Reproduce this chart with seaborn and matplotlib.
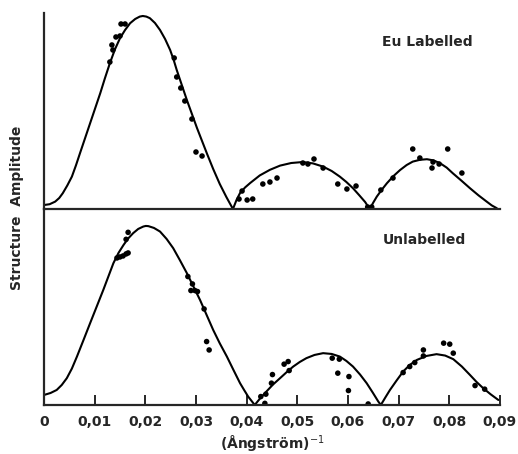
import numpy as np
import pandas as pd
import seaborn as sns
import matplotlib.pyplot as plt

# curves (x in 1/Angstrom, amplitude in arbitrary units)
eu_curve_x = [0.0, 0.0011, 0.0022, 0.0030, 0.0037, 0.0046, 0.0055, 0.0063, 0.0071, 0.0081,
              0.0091, 0.0101, 0.0111, 0.0120, 0.0130, 0.0140, 0.0150, 0.0160, 0.0170, 0.0180,
              0.0189, 0.0195, 0.0202, 0.0209, 0.0219, 0.0229, 0.0239, 0.0249, 0.0256, 0.0262,
              0.0272, 0.0282, 0.0292, 0.0302, 0.0312, 0.0322, 0.0334, 0.0347, 0.0360, 0.0373,
              0.0380, 0.0387, 0.0397, 0.0407, 0.0417, 0.0426, 0.0446, 0.0466, 0.0488, 0.0511,
              0.0531, 0.0551, 0.0568, 0.0584, 0.0597, 0.0610, 0.0622, 0.0634, 0.0643,
              0.0650, 0.0657, 0.0667, 0.0677, 0.0690, 0.0703, 0.0716, 0.0728, 0.0742, 0.0756,
              0.0769, 0.0782, 0.0795, 0.0807, 0.0824, 0.0841, 0.0858, 0.0874, 0.0884, 0.0894]
eu_curve_y = [0.20, 0.24, 0.37, 0.55, 0.79, 1.18, 1.62, 2.18, 2.79, 3.54,
              4.29, 5.04, 5.79, 6.52, 7.29, 7.98, 8.54, 8.95, 9.29, 9.50,
              9.62, 9.65, 9.62, 9.54, 9.30, 8.95, 8.50, 7.95, 7.45, 6.95,
              6.20, 5.45, 4.75, 4.05, 3.40, 2.75, 2.00, 1.25, 0.60, 0.0,
              0.45, 0.80, 1.08, 1.30, 1.50, 1.68, 1.96, 2.17, 2.30, 2.35,
              2.28, 2.12, 1.90, 1.62, 1.35, 1.04, 0.70, 0.35, 0.0,
              0.32, 0.62, 0.97, 1.29, 1.65, 1.95, 2.20, 2.37, 2.46, 2.49,
              2.43, 2.29, 2.07, 1.79, 1.42, 1.04, 0.68, 0.37, 0.18, 0.04]

un_curve_x = [0.0, 0.0013, 0.0025, 0.0035, 0.0045, 0.0055, 0.0065, 0.0078, 0.0091, 0.0104,
              0.0117, 0.0127, 0.0137, 0.0147, 0.0157, 0.0166, 0.0176, 0.0186, 0.0196, 0.0201,
              0.0206, 0.0217, 0.0229, 0.0242, 0.0255, 0.0268, 0.0282, 0.0295, 0.0308, 0.0321,
              0.0334, 0.0347, 0.0361, 0.0374, 0.0387, 0.0395, 0.0403, 0.0416,
              0.0427, 0.0439, 0.0452, 0.0466, 0.0479, 0.0492, 0.0505, 0.0518, 0.0534, 0.0551,
              0.0568, 0.0584, 0.0597, 0.0610, 0.0624, 0.0637, 0.0649, 0.0660, 0.0665,
              0.0674, 0.0683, 0.0696, 0.0709, 0.0722, 0.0736, 0.0755, 0.0775, 0.0792, 0.0808,
              0.0825, 0.0841, 0.0854, 0.0867, 0.0882, 0.0897]
un_curve_y = [0.50, 0.60, 0.75, 1.00, 1.34, 1.82, 2.42, 3.25, 4.09, 4.92,
              5.75, 6.42, 7.09, 7.60, 8.00, 8.32, 8.59, 8.80, 8.92, 8.95,
              8.94, 8.85, 8.67, 8.30, 7.84, 7.25, 6.59, 5.92, 5.25, 4.50,
              3.75, 3.08, 2.42, 1.75, 1.09, 0.75, 0.42, 0.0,
              0.34, 0.67, 1.02, 1.34, 1.64, 1.92, 2.15, 2.34, 2.50, 2.59,
              2.55, 2.42, 2.20, 1.92, 1.52, 1.09, 0.62, 0.17, 0.0,
              0.38, 0.75, 1.22, 1.67, 2.00, 2.25, 2.45, 2.54, 2.47, 2.29,
              1.92, 1.50, 1.15, 0.84, 0.53, 0.25]

# measured points
eu_pts_x = [0.0152, 0.0160, 0.0150, 0.0142, 0.0134, 0.0136, 0.0130, 0.0257, 0.0262, 0.0270,
            0.0278, 0.0292, 0.0300, 0.0312, 0.0385, 0.0391, 0.0401, 0.0412, 0.0432, 0.0446,
            0.0460, 0.0511, 0.0521, 0.0533, 0.0551, 0.0580, 0.0598, 0.0616, 0.0639, 0.0647,
            0.0665, 0.0689, 0.0728, 0.0742, 0.0768, 0.0766, 0.0780, 0.0797, 0.0825]
eu_pts_y = [9.25, 9.25, 8.65, 8.60, 8.20, 7.95, 7.35, 7.55, 6.60, 6.05,
            5.40, 4.50, 2.85, 2.65, 0.50, 0.90, 0.45, 0.50, 1.25, 1.35,
            1.55, 2.30, 2.25, 2.50, 2.05, 1.25, 1.00, 1.15, 0.10, 0.10,
            0.95, 1.55, 3.00, 2.55, 2.35, 2.05, 2.25, 3.00, 1.80]

un_pts_x = [0.0166, 0.0162, 0.0144, 0.0150, 0.0156, 0.0162, 0.0166, 0.0284, 0.0293, 0.0290,
            0.0298, 0.0303, 0.0316, 0.0321, 0.0326, 0.0436, 0.0428, 0.0438, 0.0449, 0.0451,
            0.0474, 0.0482, 0.0484, 0.0569, 0.0583, 0.0580, 0.0602, 0.0601, 0.0640, 0.0709,
            0.0722, 0.0732, 0.0749, 0.0749, 0.0789, 0.0801, 0.0808, 0.0851, 0.0870]
un_pts_y = [8.63, 8.28, 7.35, 7.40, 7.45, 7.55, 7.60, 6.42, 6.05, 5.72,
            5.72, 5.67, 4.80, 3.17, 2.75, 0.08, 0.42, 0.54, 1.09, 1.52,
            2.04, 2.17, 1.72, 2.34, 2.29, 1.59, 1.42, 0.72, 0.05, 1.62,
            1.92, 2.12, 2.75, 2.45, 3.09, 3.04, 2.59, 0.97, 0.79]

xticks = [0.0, 0.01, 0.02, 0.03, 0.04, 0.05, 0.06, 0.07, 0.08, 0.09]
xticklabels = ['0', '0,01', '0,02', '0,03', '0,04', '0,05', '0,06', '0,07', '0,08', '0,09']

sns.set_style('ticks')
plt.rcParams['font.family'] = ['DejaVu Sans']

fig = plt.figure(figsize=(5.18, 4.54), dpi=100)
ax1 = fig.add_axes([0.085, 0.5396, 0.880, 0.4318])
ax2 = fig.add_axes([0.085, 0.108, 0.880, 0.4318])

panels = [
    (ax1, eu_curve_x, eu_curve_y, eu_pts_x, eu_pts_y, 'Eu Labelled', 8.35),
    (ax2, un_curve_x, un_curve_y, un_pts_x, un_pts_y, 'Unlabelled', 8.25),
]

for ax, cx, cy, px, py, label, ly in panels:
    sns.lineplot(x=cx, y=cy, ax=ax, color='black', linewidth=1.5,
                 estimator=None, sort=False)
    sns.scatterplot(x=px, y=py, ax=ax, color='black', s=16, edgecolor='none')
    ax.set_xlim(0, 0.09)
    ax.set_ylim(0, 9.8)
    ax.set_yticks([])
    ax.spines['top'].set_visible(False)
    ax.spines['right'].set_visible(False)
    ax.spines['left'].set_linewidth(1.6)
    ax.spines['bottom'].set_linewidth(1.6)
    ax.set_ylabel('')
    ax.text(0.0668, ly, label, fontsize=10, fontweight='bold', va='center', ha='left')
    ax.patch.set_alpha(0)

ax1.set_xticks([])
ax2.set_xticks(xticks)
ax2.set_xticklabels(xticklabels, fontsize=10, fontweight='bold')
ax2.tick_params(axis='x', direction='in', length=7, width=1.4, pad=7)
ax2.set_xlabel(r'(Ångström)$^{-1}$', fontsize=10, fontweight='bold', labelpad=4)

fig.text(17 / 518, 1 - 208 / 454, 'Structure  Amplitude', rotation=90,
         ha='center', va='center', fontsize=10, fontweight='bold')

fig.savefig('out.png', dpi=100)
